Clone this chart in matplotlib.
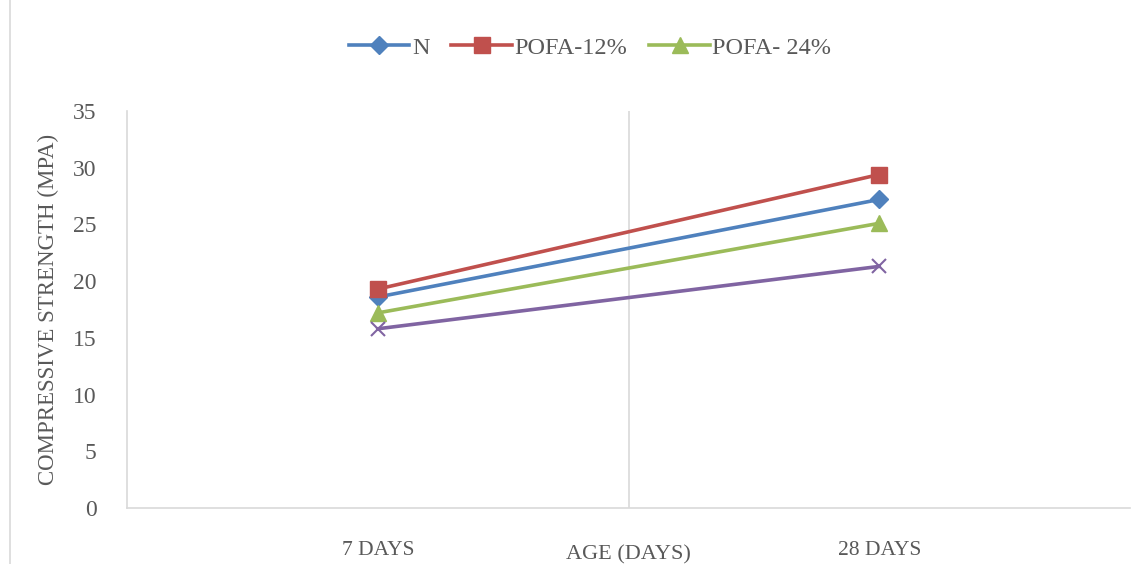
import matplotlib.pyplot as plt
import matplotlib.lines as mlines

ages = ["7 DAYS", "28 DAYS"]
n_vals = [18.6, 27.2]
pofa12_vals = [19.3, 29.4]
pofa24_vals = [17.2, 25.1]
other_vals = [15.8, 21.3]

plt.rcParams['font.family'] = ['Liberation Serif', 'DejaVu Serif']

fig = plt.figure(figsize=(11.48, 5.64), dpi=100)
ax = fig.add_axes([127/1148, 1 - 508/564, (1130-127)/1148, (508-111)/564])

xs = [0.5, 1.5]
ax.plot(xs, n_vals, color='#4F81BD', lw=2.6, marker='D', ms=9, label="N")
ax.plot(xs, pofa12_vals, color='#C0504D', lw=2.6, marker='s', ms=11, label="POFA-12%")
ax.plot(xs, pofa24_vals, color='#9BBB59', lw=2.6, marker='^', ms=11, label="POFA- 24%")
ax.plot(xs, other_vals, color='#8064A2', lw=2.6, marker='x', ms=10, mew=1.5)

ax.set_xlim(0, 2)
ax.set_ylim(0, 35)
ax.set_yticks(range(0, 36, 5))
ax.set_xticks(xs)
ax.set_xticklabels(ages)
ax.axvline(1, color='#D9D9D9', lw=1.2, zorder=0)

for s in ['top', 'right']:
    ax.spines[s].set_visible(False)
for s in ['left', 'bottom']:
    ax.spines[s].set_color('#D9D9D9')
    ax.spines[s].set_linewidth(1.2)
ax.tick_params(axis='both', length=0, colors='#595959', labelsize=17)
ax.tick_params(axis='y', pad=22)
ax.tick_params(axis='x', pad=24)
for lbl in ax.get_xticklabels():
    lbl.set_fontsize(15.5)

ax.set_xlabel("AGE (DAYS)", fontsize=16, color='#595959', labelpad=-11)
ax.set_ylabel("COMPRESSIVE STRENGTH (MPA)", fontsize=16.5, color='#595959', labelpad=10)

handles = [
    mlines.Line2D([], [], color='#4F81BD', lw=2.6, marker='D', ms=9),
    mlines.Line2D([], [], color='#C0504D', lw=2.6, marker='s', ms=11),
    mlines.Line2D([], [], color='#9BBB59', lw=2.6, marker='^', ms=11),
]
fig.legend(handles, ["N", "POFA-12%", "POFA- 24%"], loc='center', bbox_to_anchor=(590/1148, 1 - 48/564),
           ncol=3, frameon=False, fontsize=17.5, labelcolor='#595959', handlelength=2.5,
           handletextpad=0.1, columnspacing=0.9)

fig.add_artist(mlines.Line2D([10/1148, 10/1148], [0, 1], color='#D9D9D9', lw=1.2))

fig.savefig("out.png", dpi=100)
